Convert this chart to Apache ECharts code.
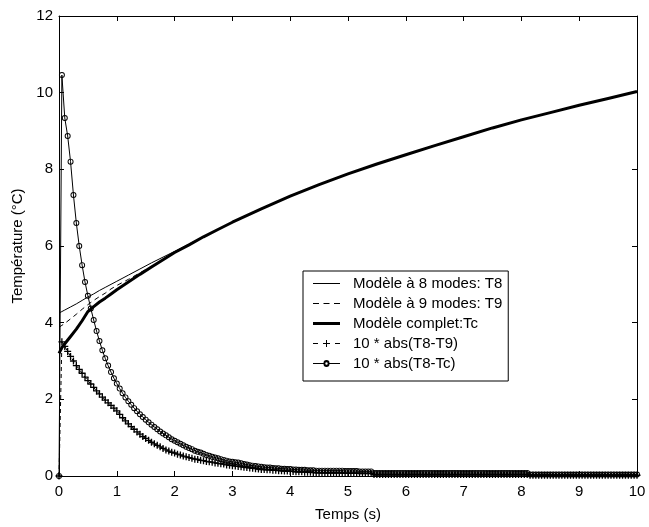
<!DOCTYPE html>
<html><head><meta charset="utf-8">
<script src="https://cdn.jsdelivr.net/npm/echarts@6/dist/echarts.min.js"></script>
<style>html,body{margin:0;padding:0;background:#fff}#c{width:649px;height:527px}</style>
</head><body><div id="c"></div>
<script>
// sampling grid of the marker series (every 0.05 s, 0..10 s)
const sampleTimes = Array.from({length: 201}, (_, i) => Math.round(i * 5) / 100);
// sampling grid of the model curves
const curveTimes = [0,0.05,0.1,0.2,0.3,0.4,0.5,0.6,0.7,0.8,0.9,1.0,1.2,1.4,1.6,1.8,2.0,2.25,2.5,2.75,3.0,3.5,4.0,4.5,5.0,5.5,6.0,6.5,7.0,7.5,8.0,8.5,9.0,9.5,10.0];

const seriesNames = ['Modèle à 8 modes: T8','Modèle à 9 modes: T9','Modèle complet:Tc','10 * abs(T8-T9)','10 * abs(T8-Tc)'];

const T8 = [4.25,4.29,4.33,4.41,4.49,4.58,4.67,4.75,4.84,4.92,5.0,5.08,5.24,5.4,5.56,5.71,5.86,6.05,6.24,6.43,6.62,6.97,7.3,7.6,7.88,8.14,8.38,8.62,8.85,9.08,9.29,9.48,9.67,9.85,10.03];
const T9 = [3.88,3.93,3.98,4.1,4.22,4.35,4.47,4.58,4.68,4.77,4.88,4.97,5.13,5.3,5.47,5.65,5.84,6.04,6.24,6.43,6.62,6.97,7.3,7.6,7.88,8.14,8.38,8.62,8.85,9.08,9.29,9.48,9.67,9.85,10.03];
const Tc = [3.2,3.35,3.45,3.64,3.83,4.05,4.29,4.42,4.54,4.64,4.75,4.86,5.06,5.26,5.45,5.64,5.83,6.03,6.24,6.43,6.62,6.97,7.3,7.6,7.88,8.14,8.38,8.62,8.85,9.08,9.29,9.48,9.67,9.85,10.03];

const diffT9 = [0,3.5,3.38,3.25,3.12,3.0,2.88,2.78,2.68,2.58,
2.49,2.40,2.31,2.22,2.14,2.06,1.98,1.91,1.84,1.77,
1.70,1.61,1.52,1.44,1.36,1.29,1.22,1.15,1.09,1.03,
0.98,0.93,0.88,0.84,0.80,0.76,0.72,0.68,0.65,0.62,
0.60,0.57,0.55,0.52,0.50,0.48,0.46,0.44,0.43,0.41,
0.40,0.38,0.37,0.36,0.34,0.33,0.32,0.31,0.29,0.28,
0.27,0.26,0.25,0.24,0.23,0.22,0.21,0.20,0.19,0.18,
0.17,0.17,0.16,0.16,0.15,0.15,0.14,0.14,0.13,0.13,
0.12,0.12,0.11,0.11,0.11,0.10,0.10,0.10,0.09,0.09,
0.09,0.08,0.08,0.08,0.08,0.08,0.08,0.08,0.08,0.07,
0.07,0.07,0.07,0.07,0.07,0.07,0.07,0.07,0.07,0.04,
0.04,0.04,0.04,0.04,0.04,0.04,0.04,0.04,0.04,0.04,
0.04,0.04,0.04,0.04,0.04,0.04,0.04,0.04,0.04,0.04,
0.04,0.04,0.04,0.04,0.04,0.04,0.04,0.04,0.04,0.04,
0.04,0.04,0.04,0.04,0.04,0.04,0.04,0.04,0.04,0.04,
0.04,0.04,0.04,0.04,0.04,0.04,0.04,0.04,0.04,0.04,
0.04,0.04,0.04,0.02,0.02,0.02,0.02,0.02,0.02,0.02,
0.02,0.02,0.02,0.02,0.02,0.02,0.02,0.02,0.02,0.02,
0.02,0.02,0.02,0.02,0.02,0.02,0.02,0.02,0.02,0.02,
0.02,0.02,0.02,0.02,0.02,0.02,0.02,0.02,0.02,0.02,
0.02];

const diffTc = [0,10.46,9.34,8.87,8.2,7.33,6.6,6.0,5.5,5.06,
4.7,4.37,4.07,3.78,3.52,3.28,3.07,2.88,2.71,2.55,
2.41,2.28,2.16,2.05,1.95,1.86,1.77,1.69,1.61,1.54,
1.47,1.40,1.34,1.28,1.22,1.16,1.11,1.06,1.01,0.96,
0.92,0.88,0.84,0.80,0.76,0.73,0.70,0.66,0.63,0.61,
0.58,0.55,0.53,0.50,0.48,0.46,0.44,0.42,0.40,0.38,
0.37,0.36,0.35,0.33,0.31,0.30,0.28,0.27,0.26,0.25,
0.24,0.23,0.22,0.22,0.21,0.20,0.20,0.19,0.19,0.18,
0.18,0.17,0.17,0.16,0.16,0.16,0.15,0.15,0.15,0.14,
0.14,0.14,0.14,0.14,0.14,0.14,0.14,0.14,0.14,0.13,
0.13,0.13,0.13,0.13,0.12,0.12,0.12,0.12,0.12,0.08,
0.08,0.08,0.08,0.08,0.08,0.08,0.08,0.08,0.08,0.08,
0.08,0.08,0.08,0.08,0.08,0.08,0.08,0.08,0.08,0.08,
0.08,0.08,0.08,0.08,0.08,0.08,0.08,0.08,0.08,0.08,
0.08,0.08,0.08,0.08,0.08,0.08,0.08,0.08,0.08,0.08,
0.08,0.08,0.08,0.08,0.08,0.08,0.08,0.08,0.08,0.08,
0.08,0.08,0.08,0.04,0.04,0.04,0.04,0.04,0.04,0.04,
0.04,0.04,0.04,0.04,0.04,0.04,0.04,0.04,0.04,0.04,
0.04,0.04,0.04,0.04,0.04,0.04,0.04,0.04,0.04,0.04,
0.04,0.04,0.04,0.04,0.04,0.04,0.04,0.04,0.04,0.04,
0.04];

const xTicks = {min: 0, max: 10, interval: 1};
const yTicks = {min: 0, max: 12, interval: 2};

const FONT = '"Liberation Sans", Arial, sans-serif';
const zip = (xs, ys) => xs.map((x, i) => [x, ys[i]]);
const plusPath = 'path://M-0.75,-4H0.75V-0.75H4V0.75H0.75V4H-0.75V0.75H-4V-0.75H-0.75Z';
const ringPath = 'path://M0,-3A3,3 0 1 1 0,3A3,3 0 1 1 0,-3Z M0,-2.05A2.05,2.05 0 1 0 0,2.05A2.05,2.05 0 1 0 0,-2.05Z';

// legend glyphs (line samples), scaled into the legend item box
const legendIcons = [
  'path://M0,0H27V1H0Z',
  'path://M0,0H6V1H0Z M10.5,0H16.5V1H10.5Z M21,0H27V1H21Z',
  'path://M0,0H27V3H0Z',
  'path://M0,3H5V4H0Z M10,3H13V0H14V3H17V4H14V7H13V4H10Z M22,3H27V4H22Z',
  'path://M0,3H10.5A3,3 0 0 1 16.5,3H27V4H16.5A3,3 0 0 1 10.5,4H0Z M12.3,3.5A1.2,1.2 0 0 0 14.7,3.5A1.2,1.2 0 0 0 12.3,3.5Z'
];

const axisCommon = {
  type: 'value',
  axisLine: {show: true, onZero: false, lineStyle: {color: '#000', width: 1}},
  axisTick: {show: true, inside: true, length: 5, lineStyle: {color: '#000'}},
  splitLine: {show: false},
  axisLabel: {color: '#000', fontFamily: FONT, fontSize: 15}
};

const chart = echarts.init(document.getElementById('c'), null, {renderer: 'canvas'});
chart.setOption({
  animation: false,
  backgroundColor: '#fff',
  grid: {left: 59, right: 12, top: 16, bottom: 51, containLabel: false},
  xAxis: [
    Object.assign({}, axisCommon, xTicks, {position: 'bottom', name: 'Temps (s)', nameLocation: 'middle', nameGap: 31,
      nameTextStyle: {color: '#000', fontFamily: FONT, fontSize: 15},
      axisLabel: Object.assign({}, axisCommon.axisLabel, {margin: 8})}),
    Object.assign({}, axisCommon, xTicks, {position: 'top', axisLabel: {show: false}})
  ],
  yAxis: [
    Object.assign({}, axisCommon, yTicks, {position: 'left', name: 'Température (°C)', nameLocation: 'middle', nameGap: 34,
      nameTextStyle: {color: '#000', fontFamily: FONT, fontSize: 15},
      axisLabel: Object.assign({}, axisCommon.axisLabel, {margin: 6})}),
    Object.assign({}, axisCommon, yTicks, {position: 'right', axisLabel: {show: false}})
  ],
  legend: {
    orient: 'vertical', left: 303, top: 271,
    backgroundColor: '#fff', borderColor: '#000', borderWidth: 1, borderRadius: 0,
    padding: [5, 6, 10, 10], itemWidth: 27, itemHeight: 7, itemGap: 5,
    textStyle: {color: '#000', fontFamily: FONT, fontSize: 15, padding: [0, 0, 0, 8]},
    data: seriesNames.map((n, i) => ({name: n, icon: legendIcons[i], itemStyle: {color: '#000', borderWidth: 0}}))
  },
  series: [
    {name: seriesNames[0], type: 'line', data: zip(curveTimes, T8), symbol: 'none',
      lineStyle: {color: '#000', width: 1}, itemStyle: {color: '#000'}},
    {name: seriesNames[1], type: 'line', data: zip(curveTimes, T9), symbol: 'none',
      lineStyle: {color: '#000', width: 1, type: [5, 4]}, itemStyle: {color: '#000'}},
    {name: seriesNames[2], type: 'line', data: zip(curveTimes, Tc), symbol: 'none',
      lineStyle: {color: '#000', width: 3}, itemStyle: {color: '#000'}},
    {name: seriesNames[3], type: 'line', data: zip(sampleTimes, diffT9), symbol: plusPath, symbolSize: 7,
      lineStyle: {color: '#000', width: 1, type: [4, 3]}, itemStyle: {color: '#000', borderWidth: 0}},
    {name: seriesNames[4], type: 'line', data: zip(sampleTimes, diffTc), symbol: ringPath, symbolSize: 6,
      lineStyle: {color: '#000', width: 1}, itemStyle: {color: '#000', borderWidth: 0}}
  ]
});
</script></body></html>
